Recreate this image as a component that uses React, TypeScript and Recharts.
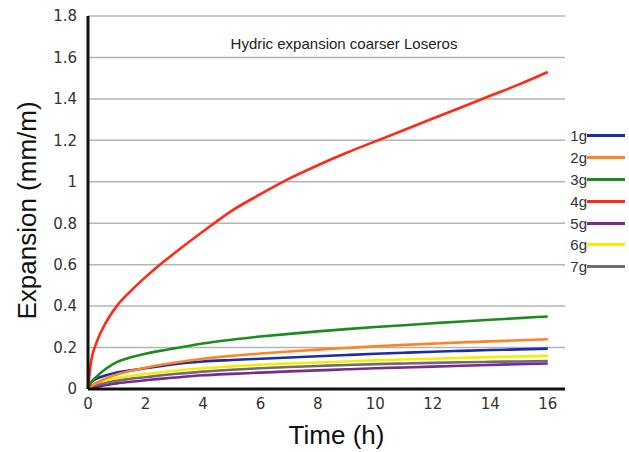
import React from "react";
import { LineChart, Line, XAxis, YAxis, CartesianGrid } from "recharts";

const times = [0, 0.1, 0.3, 0.6, 1, 1.5, 2, 2.5, 3, 4, 5, 6, 7, 8, 9, 10, 11, 12, 13, 14, 15, 16];
const g1 = [0, 0.03, 0.05, 0.065, 0.08, 0.09, 0.1, 0.11, 0.12, 0.133, 0.14, 0.146, 0.152, 0.158, 0.164, 0.17, 0.175, 0.18, 0.184, 0.188, 0.191, 0.195];
const g2 = [0, 0.01, 0.03, 0.05, 0.07, 0.088, 0.103, 0.116, 0.127, 0.146, 0.16, 0.171, 0.181, 0.19, 0.198, 0.206, 0.213, 0.219, 0.225, 0.23, 0.235, 0.24];
const g3 = [0, 0.03, 0.06, 0.095, 0.13, 0.153, 0.17, 0.184, 0.196, 0.22, 0.238, 0.253, 0.266, 0.278, 0.289, 0.299, 0.308, 0.317, 0.326, 0.334, 0.342, 0.35];
const g4 = [0, 0.125, 0.225, 0.315, 0.4, 0.475, 0.54, 0.6, 0.655, 0.76, 0.86, 0.94, 1.015, 1.08, 1.14, 1.195, 1.25, 1.305, 1.36, 1.415, 1.47, 1.53];
const g5 = [0, 0.005, 0.01, 0.018, 0.027, 0.035, 0.042, 0.049, 0.055, 0.066, 0.073, 0.079, 0.085, 0.09, 0.095, 0.1, 0.104, 0.108, 0.112, 0.116, 0.12, 0.123];
const g6 = [0, 0.015, 0.03, 0.04, 0.053, 0.063, 0.072, 0.08, 0.088, 0.1, 0.109, 0.117, 0.123, 0.128, 0.133, 0.138, 0.142, 0.146, 0.15, 0.154, 0.157, 0.16];
const g7 = [0, 0.01, 0.02, 0.03, 0.04, 0.05, 0.057, 0.065, 0.072, 0.084, 0.093, 0.1, 0.106, 0.111, 0.116, 0.12, 0.123, 0.126, 0.129, 0.131, 0.133, 0.135];

const seriesNames = ["1g", "2g", "3g", "4g", "5g", "6g", "7g"];
const seriesValues = [g1, g2, g3, g4, g5, g6, g7];
const seriesColors = ["#1b2ea8", "#ff8424", "#1d8c1d", "#ff2a16", "#7b2a8c", "#f4ee00", "#6e6e6e"];

const xTicks = [0, 2, 4, 6, 8, 10, 12, 14, 16];
const yTicks = [0, 0.2, 0.4, 0.6, 0.8, 1, 1.2, 1.4, 1.6, 1.8];

const title = "Hydric expansion coarser Loseros";
const xLabel = "Time (h)";
const yLabel = "Expansion (mm/m)";

const data = times.map((t, i) => {
  const row: Record<string, number> = { t };
  seriesNames.forEach((n, k) => {
    row[n] = seriesValues[k][i];
  });
  return row;
});

const drawOrder = [6, 4, 5, 0, 1, 2, 3];

export default function App() {
  return (
    <div style={{ position: "absolute", left: 0, top: 0, width: 629, height: 452, background: "#fff" }}>
      <LineChart width={629} height={452} data={data} margin={{ top: 16, right: 64, bottom: 0, left: 0 }}>
        <CartesianGrid vertical={false} stroke="#b4b4b4" strokeWidth={1.5} />
        <XAxis
          dataKey="t"
          type="number"
          domain={[0, 16.6]}
          ticks={xTicks}
          height={63}
          tickLine={false}
          tickSize={0}
          tickMargin={9}
          axisLine={{ stroke: "#111", strokeWidth: 3 }}
          tick={{ fill: "#333", fontSize: 15, fontFamily: "DejaVu Sans" }}
          label={{
            content: (p: any) => {
              const vb = p.viewBox || { x: 88, y: 389, width: 477, height: 63 };
              return (
                <text x={vb.x + vb.width / 2 + 10} y={vb.y + 46} textAnchor="middle" dominantBaseline="central" fontSize={26} fontFamily="Liberation Sans" fill="#111">
                  {xLabel}
                </text>
              );
            },
          }}
        />
        <YAxis
          type="number"
          domain={[0, 1.8]}
          ticks={yTicks}
          width={88}
          tickLine={false}
          tickSize={0}
          tickMargin={11}
          axisLine={{ stroke: "#111", strokeWidth: 3 }}
          tick={{ fill: "#333", fontSize: 15, fontFamily: "DejaVu Sans" }}
          label={{
            content: (p: any) => {
              const vb = p.viewBox || { x: 0, y: 16, width: 88, height: 373 };
              const cx = vb.x + 27;
              const cy = vb.y + vb.height / 2 + 8;
              return (
                <text x={cx} y={cy} transform={`rotate(-90 ${cx} ${cy})`} textAnchor="middle" dominantBaseline="central" fontSize={26} fontFamily="Liberation Sans" fill="#111">
                  {yLabel}
                </text>
              );
            },
          }}
        />
        {drawOrder.map((k) => (
          <Line
            key={seriesNames[k]}
            dataKey={seriesNames[k]}
            type="monotone"
            stroke={seriesColors[k]}
            strokeWidth={2.6}
            dot={false}
            activeDot={false}
            isAnimationActive={false}
          />
        ))}
      </LineChart>
      <div
        style={{
          position: "absolute",
          left: 344,
          top: 43,
          transform: "translate(-50%, -50%)",
          whiteSpace: "nowrap",
          fontFamily: "Liberation Sans",
          fontSize: 15,
          color: "#222",
        }}
      >
        {title}
      </div>
      <div style={{ position: "absolute", left: 560, top: 125, width: 69 }}>
        {seriesNames.map((n, k) => (
          <div key={n} style={{ display: "flex", alignItems: "center", height: 21.8 }}>
            <span style={{ width: 27, textAlign: "right", fontFamily: "Liberation Sans", fontSize: 15, color: "#333" }}>{n}</span>
            <span style={{ display: "inline-block", width: 38, height: 3, background: seriesColors[k], marginLeft: 0 }} />
          </div>
        ))}
      </div>
    </div>
  );
}
